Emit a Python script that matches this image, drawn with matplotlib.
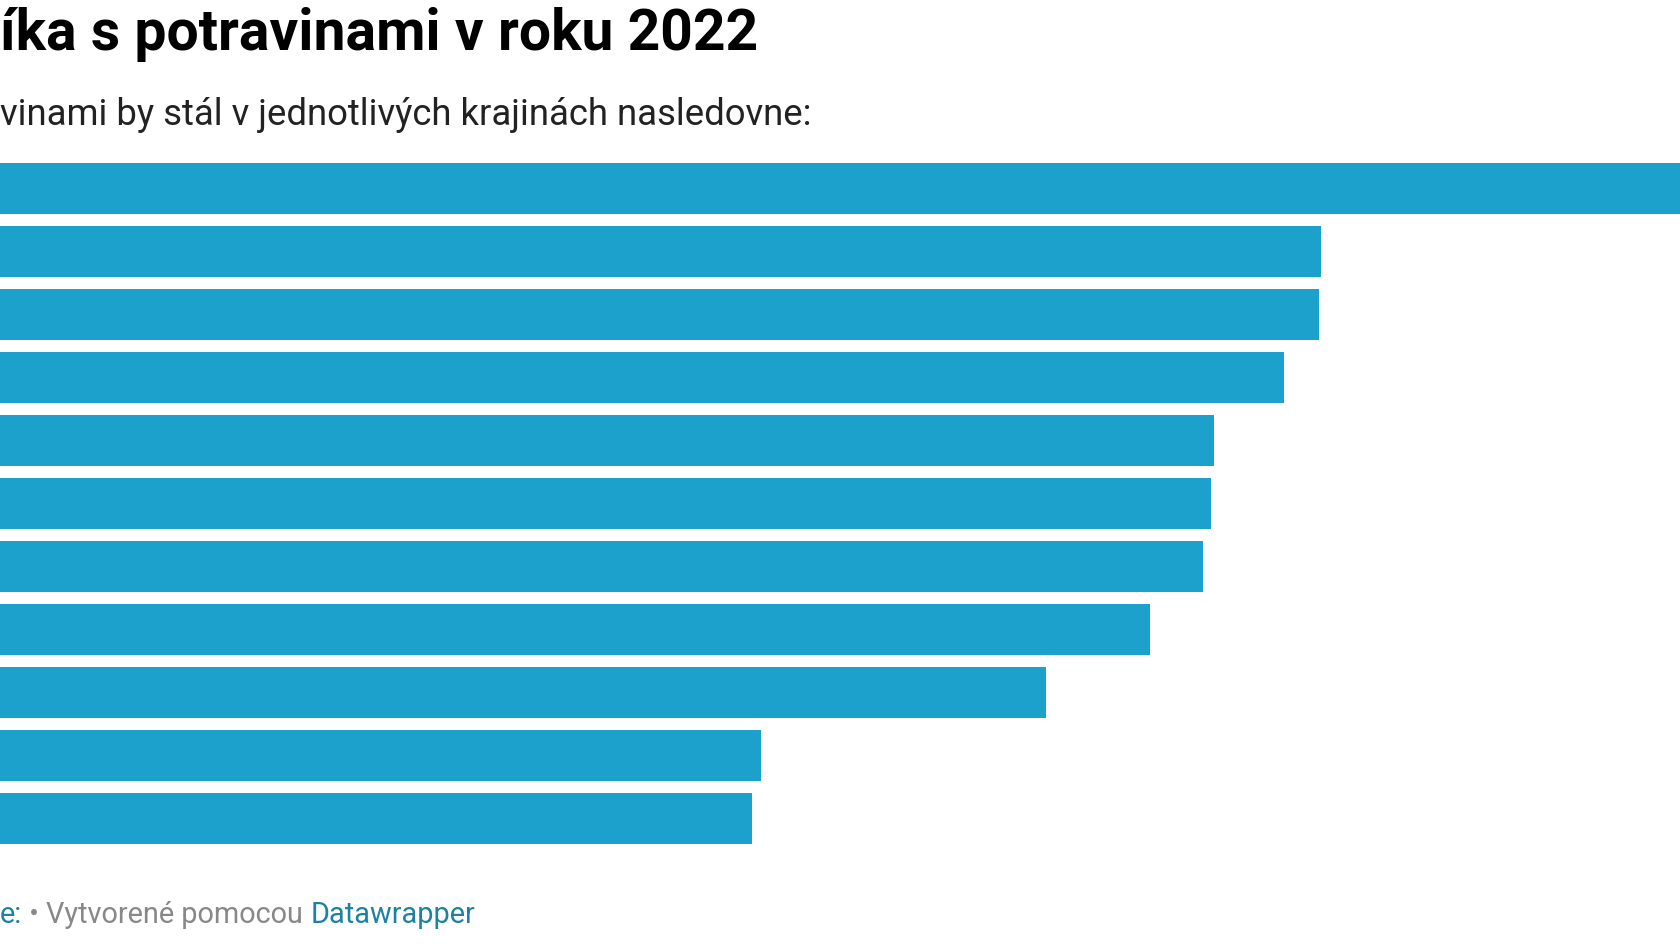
import matplotlib.pyplot as plt

# hodnoty odčítané z obrázka (relatívne dĺžky pruhov, graf je orezaný)
values = [1800, 1321, 1319, 1284, 1214, 1211, 1203, 1150, 1046, 761, 752]
title = "íka s potravinami v roku 2022"
subtitle = "vinami by stál v jednotlivých krajinách nasledovne:"

W, H = 1680, 945
fig = plt.figure(figsize=(W / 100, H / 100), dpi=100)
fig.patch.set_facecolor("white")

# oblasť pruhov: horný okraj ~163 px, spodný ~844 px
top, bottom = 164, 845
ax = fig.add_axes([0, 1 - bottom / H, 1, (bottom - top) / H])
n = len(values)
ax.barh(range(n), values, height=0.815, color="#1ba1cb", edgecolor="none")
ax.set_xlim(0, W)
ax.set_ylim(n - 1 + 0.4075, -0.4075)
ax.axis("off")

fig.text(0, 1 - 50 / H, title, fontsize=41, fontweight="bold",
         family="Roboto", color="#000000", va="baseline", ha="left")
fig.text(0, 1 - 125 / H, subtitle, fontsize=26.3,
         family="Roboto", color="#222222", va="baseline", ha="left")

# pätička
fs = 20.8
yb = 1 - 923 / H
t1 = fig.text(0, yb, "e:", fontsize=fs, family="Roboto",
              color="#1d81a2", va="baseline", ha="left")
fig.canvas.draw()
bb = t1.get_window_extent()
t2 = fig.text(bb.x1 / W, yb, " • Vytvorené pomocou ", fontsize=fs,
              family="Roboto", color="#888888", va="baseline", ha="left")
fig.canvas.draw()
bb = t2.get_window_extent()
fig.text(bb.x1 / W, yb, "Datawrapper", fontsize=fs,
         family="Roboto", color="#1d81a2", va="baseline", ha="left")

fig.savefig("out.png", dpi=100, facecolor="white")
